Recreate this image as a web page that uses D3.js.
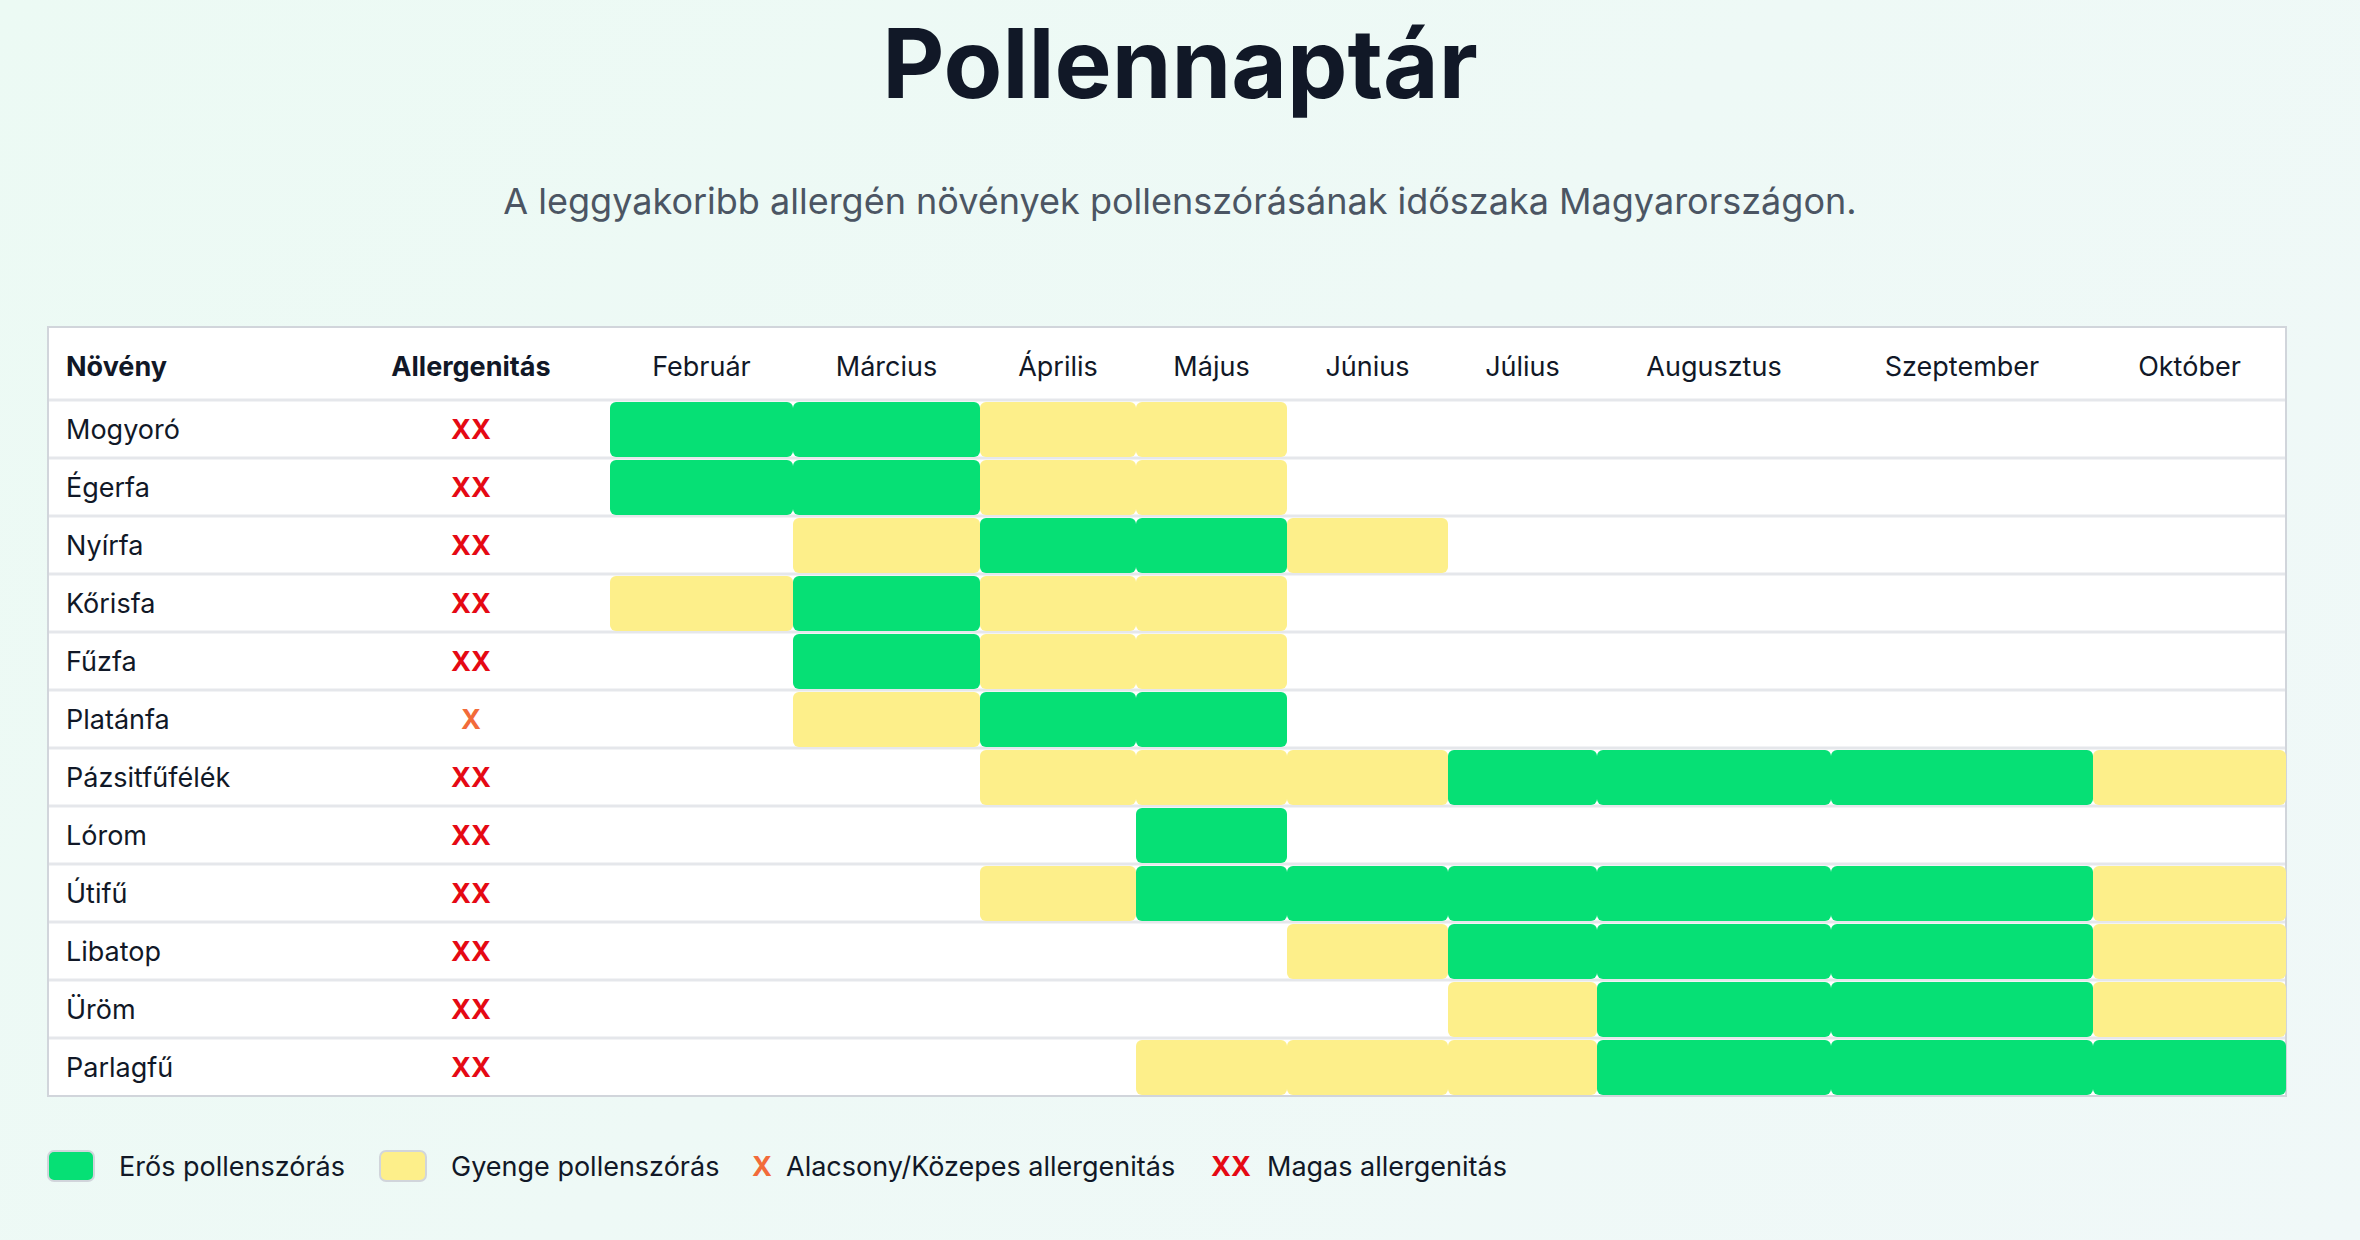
<!DOCTYPE html>
<html><head><meta charset="utf-8">
<script src="https://cdn.jsdelivr.net/npm/d3@7"></script>
<style>
body{margin:0;background:linear-gradient(135deg,#ecfaf4,#f0f8f8);font-family:Inter,"Noto Sans",sans-serif;}
</style></head>
<body><svg id="chart" width="2360" height="1240"></svg>
<script>
const months = ["Február","Március","Április","Május","Június","Július","Augusztusz".slice(0,9)+"tus".slice(3),"Szeptember","Október"];
months[6] = "Augusztus";
const plants = ["Mogyoró","Égerfa","Nyírfa","Kőrisfa","Fűzfa","Platánfa","Pázsitfűfélék","Lórom","Útifű","Libatop","Üröm","Parlagfű"];
const allergen = [2,2,2,2,2,1,2,2,2,2,2,2];
// 0 = nincs, 1 = gyenge, 2 = erős
const levels = [
  [2,2,1,1,0,0,0,0,0],
  [2,2,1,1,0,0,0,0,0],
  [0,1,2,2,1,0,0,0,0],
  [1,2,1,1,0,0,0,0,0],
  [0,2,1,1,0,0,0,0,0],
  [0,1,2,2,0,0,0,0,0],
  [0,0,1,1,1,2,2,2,1],
  [0,0,0,2,0,0,0,0,0],
  [0,0,1,2,2,2,2,2,1],
  [0,0,0,0,1,2,2,2,1],
  [0,0,0,0,0,1,2,2,1],
  [0,0,0,1,1,1,2,2,2]
];
const colWidths = [183,187,156,151,161,149,234,262,193];

const svg = d3.select("#chart");
const GREEN = "#06e075", YELLOW = "#fdef8a";
const tx0 = 48, tx1 = 2286, ty0 = 327, headerH = 73, rowH = 58;

svg.append("text").attr("x",1180).attr("y",98).attr("text-anchor","middle")
  .attr("font-size",96).attr("font-weight",700).attr("fill","#111827").text("Pollennaptár");
svg.append("text").attr("x",1180).attr("y",214).attr("text-anchor","middle")
  .attr("font-size",36).attr("fill","#4b5563")
  .text("A leggyakoribb allergén növények pollenszórásának időszaka Magyarországon.");

const edges = [610];
colWidths.forEach(w => edges.push(edges[edges.length-1]+w));
const x = d3.scaleOrdinal().domain(months).range(edges.slice(0,-1));
const w = d3.scaleOrdinal().domain(months).range(colWidths);
const y = d3.scaleBand().domain(plants).range([ty0+headerH, ty0+headerH+rowH*plants.length]);

const tableH = headerH + rowH*plants.length;
svg.append("rect").attr("x",tx0).attr("y",ty0).attr("width",tx1-tx0).attr("height",tableH)
  .attr("fill","#fff").attr("stroke","#d1d5db").attr("stroke-width",2);

// header
const hy = ty0 + headerH/2 + 12;
svg.append("text").attr("x",66).attr("y",hy).attr("font-size",27).attr("font-weight",700).attr("fill","#111827").text("Növény");
svg.append("text").attr("x",471).attr("y",hy).attr("text-anchor","middle").attr("font-size",27).attr("font-weight",700).attr("fill","#111827").text("Allergenitás");
svg.selectAll(".mh").data(months).join("text")
  .attr("x",d=>x(d)+w(d)/2).attr("y",hy).attr("text-anchor","middle")
  .attr("font-size",27).attr("fill","#111827").text(d=>d);

// row lines
svg.selectAll(".rl").data(plants).join("line")
  .attr("x1",tx0+1).attr("x2",tx1-1).attr("y1",d=>y(d)).attr("y2",d=>y(d))
  .attr("stroke","#e5e7eb").attr("stroke-width",3);

// cells
const cells = [];
levels.forEach((r,i)=>r.forEach((v,j)=>{ if(v) cells.push({p:plants[i],m:months[j],v}); }));
svg.selectAll(".cell").data(cells).join("rect")
  .attr("x",d=>x(d.m)).attr("y",d=>y(d.p)+2).attr("width",d=>w(d.m)).attr("height",rowH-3)
  .attr("rx",6).attr("fill",d=>d.v===2?GREEN:YELLOW);

// labels
svg.selectAll(".pl").data(plants).join("text")
  .attr("x",66).attr("y",d=>y(d)+rowH/2+10).attr("font-size",27).attr("fill","#111827").text(d=>d);
svg.selectAll(".al").data(plants).join("text")
  .attr("x",471).attr("y",d=>y(d)+rowH/2+10).attr("text-anchor","middle")
  .attr("font-size",27).attr("font-weight",700)
  .attr("fill",(d,i)=>allergen[i]===2?"#e50914":"#f26b3a")
  .text((d,i)=>"X".repeat(allergen[i]));

// legend
const ly = 1166;
const lg = svg.append("g");
lg.append("rect").attr("x",48).attr("y",ly-15).attr("width",46).attr("height",30).attr("rx",6).attr("fill",GREEN).attr("stroke","#d1d5db").attr("stroke-width",2);
lg.append("text").attr("x",119).attr("y",ly+10).attr("font-size",27).attr("fill","#111827").text("Erős pollenszórás");
lg.append("rect").attr("x",380).attr("y",ly-15).attr("width",46).attr("height",30).attr("rx",6).attr("fill",YELLOW).attr("stroke","#d1d5db").attr("stroke-width",2);
lg.append("text").attr("x",451).attr("y",ly+10).attr("font-size",27).attr("fill","#111827").text("Gyenge pollenszórás");
lg.append("text").attr("x",752).attr("y",ly+10).attr("font-size",27).attr("font-weight",700).attr("fill","#f26b3a").text("X");
lg.append("text").attr("x",786).attr("y",ly+10).attr("font-size",27).attr("fill","#111827").text("Alacsony/Közepes allergenitás");
lg.append("text").attr("x",1211).attr("y",ly+10).attr("font-size",27).attr("font-weight",700).attr("fill","#e50914").text("XX");
lg.append("text").attr("x",1267).attr("y",ly+10).attr("font-size",27).attr("fill","#111827").text("Magas allergenitás");
</script></body></html>
